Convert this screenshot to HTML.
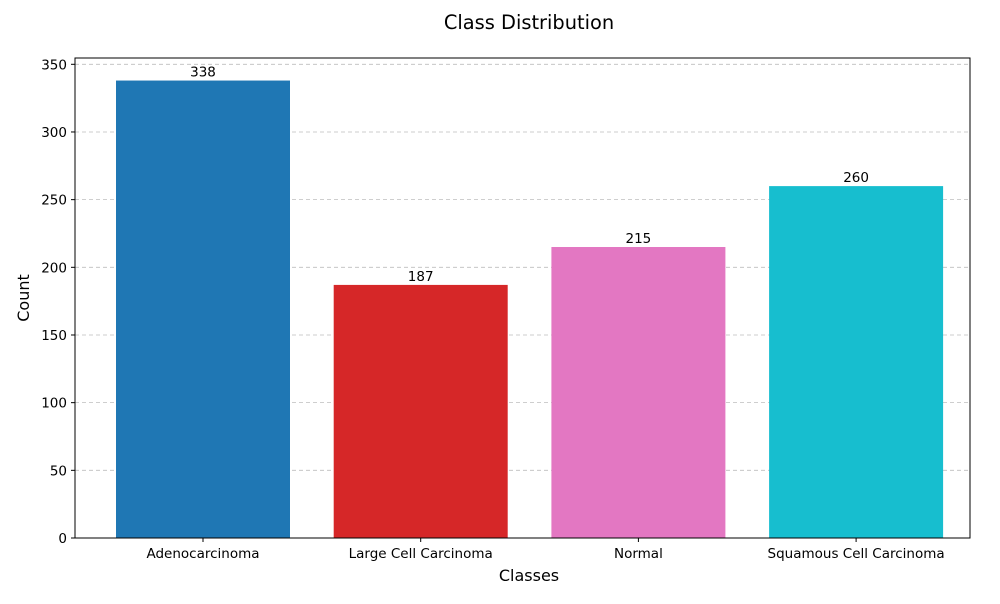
<!DOCTYPE html>
<html><head><meta charset="utf-8"><style>
body{margin:0;background:#fff;font-family:"DejaVu Sans","Liberation Sans",sans-serif}
svg text{font-family:"DejaVu Sans","Liberation Sans",sans-serif}
</style></head><body>
<svg width="1000" height="600" xmlns="http://www.w3.org/2000/svg">
<rect width="1000" height="600" fill="#fff"/>
<text x="529" y="29" font-size="19.4" text-anchor="middle">Class Distribution</text>
<g id="grid"></g>
<g id="bars"></g>
<g id="axes"></g>
<text x="529" y="581" font-size="16" text-anchor="middle">Classes</text>
<text transform="translate(29,298) rotate(-90)" font-size="16" text-anchor="middle">Count</text>
</svg>
<script>
const categories=["Adenocarcinoma","Large Cell Carcinoma","Normal","Squamous Cell Carcinoma"];
const counts=[338,187,215,260];
const colors=["#1f77b4","#d62728","#e377c2","#17becf"];
const yTicks=[0,50,100,150,200,250,300,350];
const NS="http://www.w3.org/2000/svg";
const L=75,R=970,T=58,B=538;
const y=v=>B-v*(473.7/350);
const xc=i=>203+i*217.7;
const bw=174;
function mk(tag,attrs,parent,txt){const e=document.createElementNS(NS,tag);for(const k in attrs)e.setAttribute(k,attrs[k]);if(txt!==undefined)e.textContent=txt;parent.appendChild(e);return e;}
const g=document.getElementById('grid'),b=document.getElementById('bars'),a=document.getElementById('axes');
yTicks.forEach(t=>{
 const l=mk('line',{x1:L,x2:R,y1:y(t),y2:y(t),stroke:'#bdbdbd','stroke-dasharray':'4,3','stroke-width':0.8},g);
 
 
 const tk=mk('line',{x1:L-4,x2:L,y1:y(t),y2:y(t),stroke:'#000'},a);
 
 
 const tl=mk('text',{x:L-8,y:y(t)+5,'font-size':13.5,'text-anchor':'end'},a,t);
 
 
});
categories.forEach((c,i)=>{
 const r=mk('rect',{x:xc(i)-bw/2,y:y(counts[i]),width:bw,height:B-y(counts[i]),fill:colors[i]},b);
 
 
 const v=mk('text',{x:xc(i),y:y(counts[i])-4,'font-size':13.5,'text-anchor':'middle'},b,counts[i]);
 
 
 const tk=mk('line',{x1:xc(i),x2:xc(i),y1:B,y2:B+4,stroke:'#000'},a);
 
 
 const tl=mk('text',{x:xc(i),y:B+20,'font-size':13.5,'text-anchor':'middle'},a,c);
 
 
});
const fr=mk('rect',{x:L,y:T,width:R-L,height:B-T,fill:'none',stroke:'#000','stroke-width':1},a);


</script>
</body></html>
